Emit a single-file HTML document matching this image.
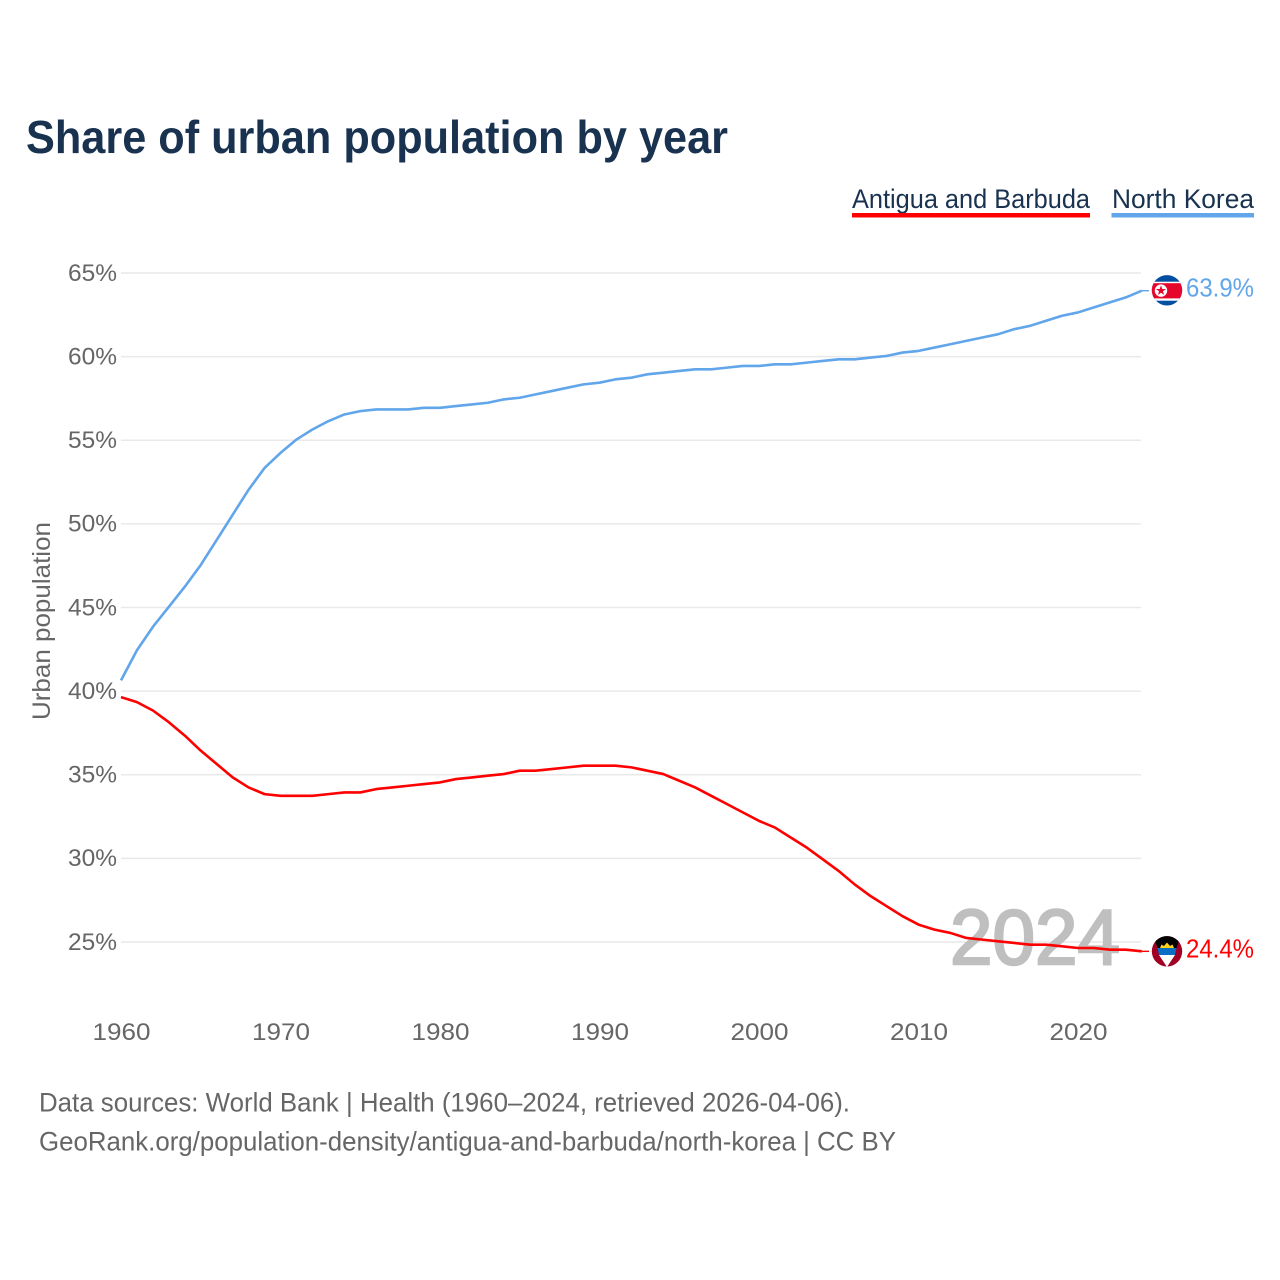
<!DOCTYPE html>
<html lang="en">
<head>
<meta charset="utf-8">
<title>Share of urban population by year</title>
<style>
  html, body { margin: 0; padding: 0; background: #fff; }
  svg { display: block; font-family: "Liberation Sans", sans-serif; }
</style>
</head>
<body>
<svg id="chart" xmlns="http://www.w3.org/2000/svg" width="1280" height="1280" viewBox="0 0 1280 1280">
  <rect width="1280" height="1280" fill="#fff"/>
  <defs>
    <clipPath id="clip-kp"><circle cx="1167" cy="290.3" r="15.2"/></clipPath>
    <clipPath id="clip-ag"><circle cx="1167" cy="951.3" r="15.2"/></clipPath>
  </defs>
  <text x="26" y="153" font-size="46" font-weight="700" fill="#18324f" textLength="702" lengthAdjust="spacingAndGlyphs">Share of urban population by year</text>

  <g>
    <g>
      <text x="852" y="208" font-size="27" fill="#18324f" textLength="238" lengthAdjust="spacingAndGlyphs">Antigua and Barbuda</text>
      <rect x="852" y="213" width="238" height="4.5" fill="#ff0000"/>
    </g>
    <g>
      <text x="1112" y="208" font-size="27" fill="#18324f" textLength="142" lengthAdjust="spacingAndGlyphs">North Korea</text>
      <rect x="1111.5" y="213" width="142.5" height="4.5" fill="#61a5ea"/>
    </g>
  </g>

  <g id="grid"></g>
  <g id="y-ticks"></g>
  <g id="x-ticks"></g>
  <text transform="translate(50,720) rotate(-90)" font-size="25" fill="#666" textLength="198" lengthAdjust="spacingAndGlyphs">Urban population</text>

  <text x="950" y="964" font-size="78" font-weight="400" fill="#bfbfbf" stroke="#bfbfbf" stroke-width="2.4" textLength="170" lengthAdjust="spacingAndGlyphs">2024</text>

  <g id="series" transform="translate(0,-0.7)"></g>

  <g clip-path="url(#clip-kp)">
    <rect x="1151" y="275" width="32" height="31" fill="#024fa2"/>
    <rect x="1151" y="281.7" width="32" height="19" fill="#fff"/>
    <rect x="1151" y="283.2" width="32" height="15.2" fill="#e4062b"/>
    <circle cx="1161" cy="290.6" r="6.2" fill="#fff"/>
    <polygon points="1161,285.4 1162.3,289 1166,289 1163,291.3 1164.1,294.9 1161,292.7 1157.9,294.9 1159,291.3 1156,289 1159.7,289" fill="#e4062b"/>
  </g>
  <g clip-path="url(#clip-ag)">
    <rect x="1151" y="935" width="32" height="33" fill="#a00024"/>
    <polygon points="1153,935 1181,935 1176.5,948 1157.5,948" fill="#000"/>
    <polygon points="1157.5,948 1176.5,948 1175,955 1159,955" fill="#0a6fc4"/>
    <polygon points="1159,955 1175,955 1167,967" fill="#fff"/>
    <polygon points="1160,948 1161.5,944.5 1164,946 1167,942.5 1170,946 1172.5,944.5 1174,948" fill="#fcd116"/>
  </g>

  <text id="label-kp" x="1186" y="296.5" font-size="26" fill="#61a5ea" textLength="68" lengthAdjust="spacingAndGlyphs"></text>
  <text id="label-ag" x="1186" y="957.5" font-size="26" fill="#ff0000" textLength="68" lengthAdjust="spacingAndGlyphs"></text>

  <text x="39" y="1111.5" font-size="27" fill="#666" textLength="811" lengthAdjust="spacingAndGlyphs">Data sources: World Bank | Health (1960–2024, retrieved 2026-04-06).</text>
  <text x="39" y="1150.5" font-size="27" fill="#666" textLength="857" lengthAdjust="spacingAndGlyphs">GeoRank.org/population-density/antigua-and-barbuda/north-korea | CC BY</text>
</svg>
<script>
const startYear = 1960;
const yTickValues = [25, 30, 35, 40, 45, 50, 55, 60, 65];
const xTickValues = [1960, 1970, 1980, 1990, 2000, 2010, 2020];
const northKorea = [40.6, 42.4, 43.8, 45.0, 46.2, 47.5, 49.0, 50.5, 52.0, 53.3,
  54.2, 55.0, 55.6, 56.1, 56.5, 56.7, 56.8, 56.8, 56.8, 56.9,
  56.9, 57.0, 57.1, 57.2, 57.4, 57.5, 57.7, 57.9, 58.1, 58.3,
  58.4, 58.6, 58.7, 58.9, 59.0, 59.1, 59.2, 59.2, 59.3, 59.4,
  59.4, 59.5, 59.5, 59.6, 59.7, 59.8, 59.8, 59.9, 60.0, 60.2,
  60.3, 60.5, 60.7, 60.9, 61.1, 61.3, 61.6, 61.8, 62.1, 62.4,
  62.6, 62.9, 63.2, 63.5, 63.9];
const antiguaBarbuda = [39.6, 39.3, 38.8, 38.1, 37.3, 36.4, 35.6, 34.8, 34.2, 33.8,
  33.7, 33.7, 33.7, 33.8, 33.9, 33.9, 34.1, 34.2, 34.3, 34.4,
  34.5, 34.7, 34.8, 34.9, 35.0, 35.2, 35.2, 35.3, 35.4, 35.5,
  35.5, 35.5, 35.4, 35.2, 35.0, 34.6, 34.2, 33.7, 33.2, 32.7,
  32.2, 31.8, 31.2, 30.6, 29.9, 29.2, 28.4, 27.7, 27.1, 26.5,
  26.0, 25.7, 25.5, 25.2, 25.1, 25.0, 24.9, 24.8, 24.8, 24.7,
  24.6, 24.6, 24.5, 24.5, 24.4];

const NS = 'http://www.w3.org/2000/svg';
function xScale(year) { return 121 + (year - 1960) * 15.95; }
function yScale(v) { return 273 + (65 - v) * 16.725; }
function make(tag, parent) {
  const el = document.createElementNS(NS, tag);
  parent.appendChild(el);
  return el;
}

const gridGroup = document.getElementById('grid');
const yGroup = document.getElementById('y-ticks');
yTickValues.forEach(function (v) {
  const line = make('line', gridGroup);
  
  
  line.setAttribute('x1', 121);
  line.setAttribute('x2', 1141);
  line.setAttribute('y1', yScale(v));
  line.setAttribute('y2', yScale(v));
  line.setAttribute('stroke', '#e9e9e9');
  line.setAttribute('stroke-width', '1.4');
  const label = make('text', yGroup);
  
  
  label.setAttribute('x', 68);
  label.setAttribute('y', yScale(v) + 7.8);
  label.setAttribute('font-size', '24');
  label.setAttribute('fill', '#666');
  label.setAttribute('textLength', '49');
  label.setAttribute('lengthAdjust', 'spacingAndGlyphs');
  label.textContent = v + '%';
});

const xGroup = document.getElementById('x-ticks');
xTickValues.forEach(function (y) {
  const label = make('text', xGroup);
  
  
  label.setAttribute('x', xScale(y) + 0.5);
  label.setAttribute('y', 1040);
  label.setAttribute('font-size', '24');
  label.setAttribute('fill', '#666');
  label.setAttribute('text-anchor', 'middle');
  label.setAttribute('textLength', '58');
  label.setAttribute('lengthAdjust', 'spacingAndGlyphs');
  label.textContent = y;
});

const seriesGroup = document.getElementById('series');
function drawSeries(values, color, slug) {
  const pts = values.map(function (v, i) {
    return xScale(startYear + i).toFixed(2) + ',' + yScale(v).toFixed(2);
  });
  const path = make('polyline', seriesGroup);
  
  
  path.setAttribute('points', pts.join(' '));
  path.setAttribute('fill', 'none');
  path.setAttribute('stroke', color);
  path.setAttribute('stroke-width', '2.6');
  path.setAttribute('stroke-linejoin', 'round');
  const last = values[values.length - 1];
  const lead = make('line', seriesGroup);
  
  
  lead.setAttribute('x1', xScale(startYear + values.length - 1));
  lead.setAttribute('x2', 1149);
  lead.setAttribute('y1', yScale(last));
  lead.setAttribute('y2', yScale(last));
  lead.setAttribute('stroke', color);
  lead.setAttribute('stroke-width', '1.4');
}
drawSeries(northKorea, '#61a5ea', 'north-korea');
drawSeries(antiguaBarbuda, '#ff0000', 'antigua-and-barbuda');

document.getElementById('label-kp').textContent = northKorea[northKorea.length - 1].toFixed(1) + '%';
document.getElementById('label-ag').textContent = antiguaBarbuda[antiguaBarbuda.length - 1].toFixed(1) + '%';
</script>
</body>
</html>
